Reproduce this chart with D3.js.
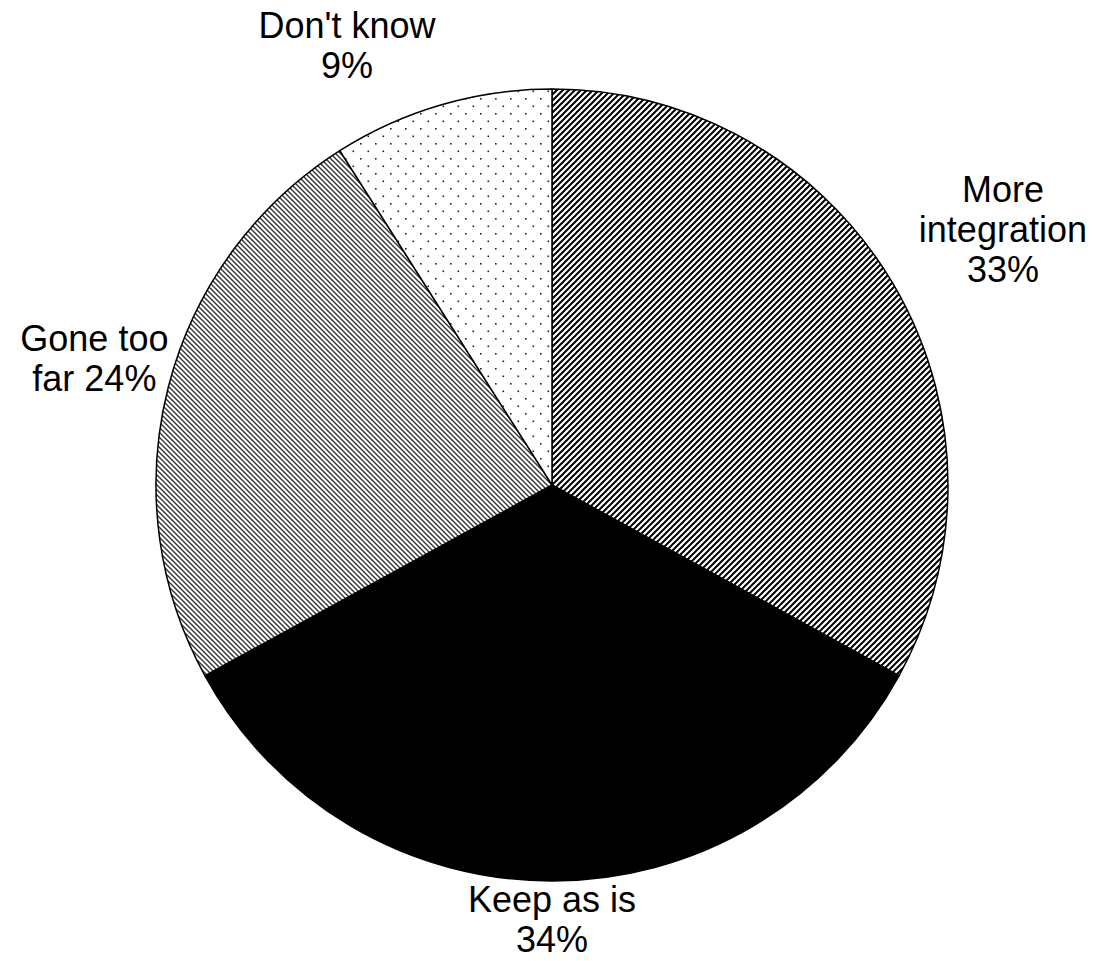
<!DOCTYPE html>
<html><head><meta charset="utf-8">
<script src="https://cdn.jsdelivr.net/npm/d3@7"></script>
<style>body{margin:0;background:#fff}svg{display:block}text{font-family:"Liberation Sans",Arial,sans-serif}</style>
</head><body>
<svg id="chart" width="1095" height="961"></svg>
<script>
const categories = ["More integration", "Keep as is", "Gone too far", "Don't know"];
const values = [33, 34, 24, 9];
const labelLines = [["More", "integration", "33%"], ["Keep as is", "34%"], ["Gone too", "far 24%"], ["Don't know", "9%"]];
const fills = ["url(#p-more)", "#000000", "url(#p-gone)", "url(#p-dk)"];

const svg = d3.select("#chart");
const cx = 552, cy = 485, R = 396;
const defs = svg.append("defs");

// hatch "/" pattern
const p1 = defs.append("pattern").attr("id", "p-more").attr("patternUnits", "userSpaceOnUse").attr("width", 6).attr("height", 6);
p1.append("rect").attr("width", 6).attr("height", 6).attr("fill", "#fff");
p1.append("path").attr("d", "M-1,1 l2,-2 M0,6 l6,-6 M5,7 l2,-2").attr("stroke", "#000").attr("stroke-width", 2);
// hatch "\" pattern
const p2 = defs.append("pattern").attr("id", "p-gone").attr("patternUnits", "userSpaceOnUse").attr("width", 5).attr("height", 5);
p2.append("rect").attr("width", 5).attr("height", 5).attr("fill", "#fff");
p2.append("path").attr("d", "M-1,4 l2,2 M0,0 l5,5 M4,-1 l2,2").attr("stroke", "#333").attr("stroke-width", 1.4);
// dots pattern
const p3 = defs.append("pattern").attr("id", "p-dk").attr("patternUnits", "userSpaceOnUse").attr("width", 15).attr("height", 15);
p3.append("rect").attr("width", 15).attr("height", 15).attr("fill", "#fff");
p3.append("rect").attr("x", 3).attr("y", 3).attr("width", 1.6).attr("height", 1.6).attr("fill", "#222");
p3.append("rect").attr("x", 10.5).attr("y", 10.5).attr("width", 1.6).attr("height", 1.6).attr("fill", "#222");

const pie = d3.pie().sort(null).value(d => d)(values);
const arc = d3.arc().innerRadius(0).outerRadius(R);
const g = svg.append("g").attr("transform", `translate(${cx},${cy})`);
g.selectAll("path.slice").data(pie).join("path")
  .attr("class", "slice")
  .attr("d", arc)
  .attr("fill", (d, i) => fills[i])
  .attr("stroke", "#000").attr("stroke-width", 1.5);

// labels outside: box edge placed near the rim point at the slice's mid-angle,
// with small layout nudges (dx, dy of the box centre) to avoid the rim
const fs = 36, lh = 40;
const nudge = [[26, -54], [0, -2], [0, -28], [-6, -59]];
const lg = svg.append("g");
pie.forEach((d, i) => {
  const a = (d.startAngle + d.endAngle) / 2;
  const sx = Math.sin(a), sy = -Math.cos(a);
  const t = lg.append("text").attr("font-size", fs).attr("fill", "#000").attr("text-anchor", "middle");
  const lines = labelLines[i];
  lines.forEach(ln => t.append("tspan").text(ln));
  const widths = t.selectAll("tspan").nodes().map(n => n.getComputedTextLength());
  const bw = Math.max(...widths);
  const bh = lines.length * lh;
  const px = cx + R * sx, py = cy + R * sy;
  const side = Math.abs(sx) < 0.2 ? 0 : Math.sign(sx);
  let bx = px + side * bw / 2 + nudge[i][0];
  let by = (side === 0 ? py + sy * bh / 2 : py) + nudge[i][1];
  t.selectAll("tspan").attr("x", bx).attr("y", (dd, j) => by - bh / 2 + lh * j + lh * 0.5 + fs * 0.35);
});
</script>
</body></html>
